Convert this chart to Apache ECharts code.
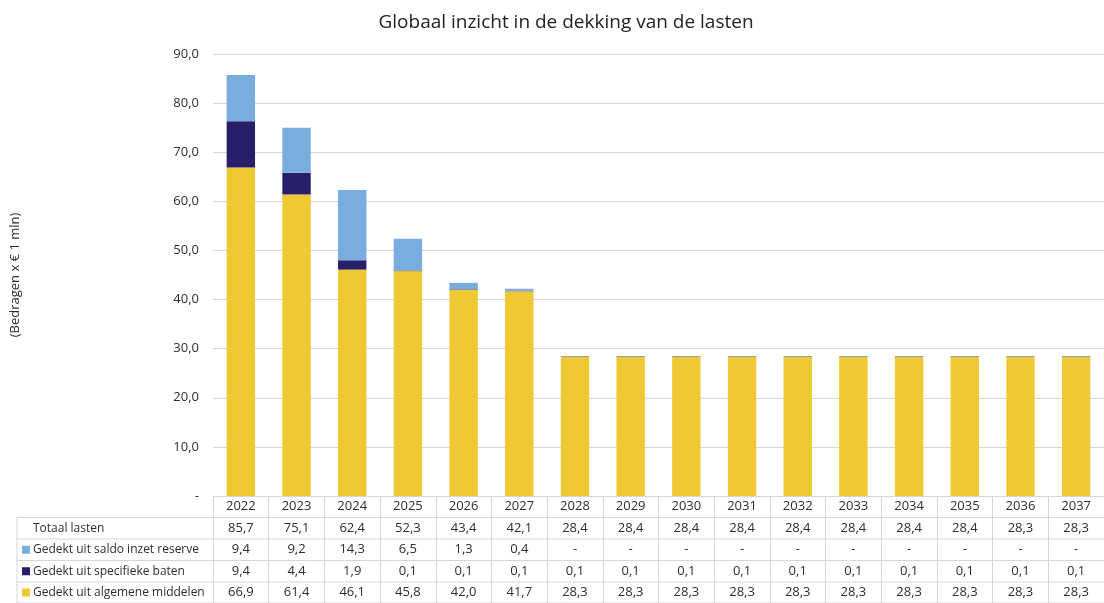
<!DOCTYPE html>
<html>
<head>
<meta charset="utf-8">
<script src="https://cdn.jsdelivr.net/npm/echarts@6/dist/echarts.min.js"></script>
<style>
html,body{margin:0;padding:0;background:#fff;}
#chart{width:1104px;height:603px;}
</style>
</head>
<body>
<div id="chart"></div>
<script>
const years = ['2022','2023','2024','2025','2026','2027','2028','2029','2030','2031','2032','2033','2034','2035','2036','2037'];
const totaalLasten = [85.7,75.1,62.4,52.3,43.4,42.1,28.4,28.4,28.4,28.4,28.4,28.4,28.4,28.4,28.3,28.3];
const saldoReserve = [9.4,9.2,14.3,6.5,1.3,0.4,0,0,0,0,0,0,0,0,0,0];
const specifiekeBaten = [9.4,4.4,1.9,0.1,0.1,0.1,0.1,0.1,0.1,0.1,0.1,0.1,0.1,0.1,0.1,0.1];
const algemeneMiddelen = [66.9,61.4,46.1,45.8,42.0,41.7,28.3,28.3,28.3,28.3,28.3,28.3,28.3,28.3,28.3,28.3];
const rowLabels = ['Totaal lasten','Gedekt uit saldo inzet reserve','Gedekt uit specifieke baten','Gedekt uit algemene middelen'];
const yTicks = [0,10,20,30,40,50,60,70,80,90];

const COLORS = {saldo:'#79acdf', spec:'#281f6b', alg:'#efc933'};
const FONT = '"Open Sans", "Noto Sans", sans-serif';
const TXT = '#2e2e2e';
const LINE = '#d6d6d6';

const fmt = v => (v === 0 || v === null) ? '-' : v.toFixed(1).replace('.', ',');

const gridLeft = 213, gridTop = 54, gridW = 903, gridH = 442;
const rowTops = [496, 517.5, 539, 560.5, 582, 603];
const rowCenter = i => (rowTops[i] + rowTops[i+1]) / 2;

const tableRows = [years, totaalLasten.map(fmt), saldoReserve.map(fmt), specifiekeBaten.map(fmt), algemeneMiddelen.map(fmt)];

const xAxes = tableRows.map((row, r) => ({
  type: 'category',
  data: years,
  gridIndex: 0,
  position: 'bottom',
  axisLine: {show: r === 0, lineStyle: {color: LINE}},
  axisTick: {show: r === 0, length: 107, lineStyle: {color: LINE}},
  splitLine: {show: false},
  axisLabel: {
    show: true, interval: 0, hideOverlap: false,
    margin: rowCenter(r) - 496,
    verticalAlign: 'middle',
    color: TXT, fontFamily: FONT, fontSize: 13,
    formatter: (v, i) => row[i]
  }
}));

const graphic = [];
for (let i = 1; i < rowTops.length; i++) {
  graphic.push({type:'line', shape:{x1:17, y1:rowTops[i], x2:1104, y2:rowTops[i]}, style:{stroke:LINE, lineWidth:1}, silent:true});
}
graphic.push({type:'line', shape:{x1:17, y1:rowTops[1], x2:17, y2:603}, style:{stroke:LINE, lineWidth:1}, silent:true});
const keyColors = [null, COLORS.saldo, COLORS.spec, COLORS.alg];
rowLabels.forEach((lab, i) => {
  const cy = rowCenter(i + 1);
  if (keyColors[i]) {
    graphic.push({type:'rect', shape:{x:22, y:cy-4, width:8, height:8}, style:{fill:keyColors[i]}, silent:true});
  }
  graphic.push({type:'text', x: 33, y: cy, style:{text: lab, fill: TXT, font: '12px ' + FONT, textVerticalAlign:'middle', verticalAlign:'middle'}, silent:true});
});

const chart = echarts.init(document.getElementById('chart'), null, {renderer:'canvas'});
chart.setOption({
  animation: false,
  backgroundColor: '#fff',
  title: {
    text: 'Globaal inzicht in de dekking van de lasten',
    left: 561, textAlign: 'center', top: 8,
    textStyle: {fontFamily: FONT, fontWeight: 'normal', fontSize: 19, color: '#222'}
  },
  grid: {left: gridLeft, top: gridTop, width: gridW, height: gridH, containLabel: false},
  xAxis: xAxes,
  yAxis: {
    type: 'value', min: 0, max: 90, interval: 10,
    name: '(Bedragen x € 1 mln)', nameLocation: 'middle', nameRotate: 90, nameGap: 191,
    nameTextStyle: {fontFamily: FONT, fontSize: 13, color: TXT},
    axisLine: {show: false}, axisTick: {show: false},
    splitLine: {lineStyle: {color: LINE}},
    axisLabel: {margin: 14, color: TXT, fontFamily: FONT, fontSize: 13,
      formatter: v => yTicks.indexOf(v) >= 0 ? fmt(v) : ''}
  },
  series: [
    {name: rowLabels[3], type: 'bar', stack: 'a', data: algemeneMiddelen, barWidth: '51%', itemStyle: {color: COLORS.alg}, xAxisIndex: 0},
    {name: rowLabels[2], type: 'bar', stack: 'a', data: specifiekeBaten, barWidth: '51%', itemStyle: {color: COLORS.spec}, xAxisIndex: 0},
    {name: rowLabels[1], type: 'bar', stack: 'a', data: saldoReserve, barWidth: '51%', itemStyle: {color: COLORS.saldo}, xAxisIndex: 0}
  ],
  graphic: graphic
});
</script>
</body>
</html>
